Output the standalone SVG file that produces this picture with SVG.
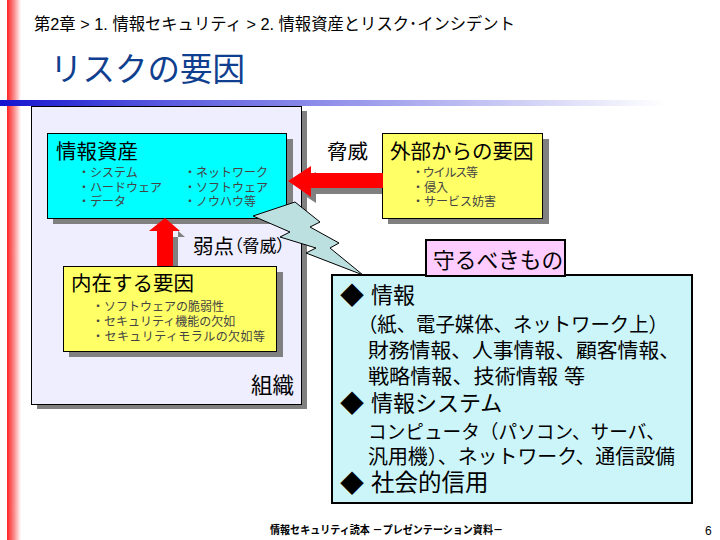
<svg xmlns="http://www.w3.org/2000/svg" width="720" height="540" viewBox="0 0 720 540">
<style>
text{font-family:"Liberation Sans","Noto Sans CJK JP",sans-serif;fill:#000}
.h{font-size:20.5px}
.s{font-size:12px;fill:#444}
.box{stroke:#000;stroke-width:1}
.shadow{fill:#808080}
.arrow{fill:#f00}
.d{font-size:24px}
.p{font-size:17px;font-feature-settings:"palt"}
</style>
<defs>
<linearGradient id="gl" x1="0" y1="0" x2="1" y2="0"><stop offset="0" stop-color="#f22"/><stop offset="0.5" stop-color="#fb8a8a"/><stop offset="1" stop-color="#fff"/></linearGradient>
<linearGradient id="gt" x1="0" y1="0" x2="1" y2="0"><stop offset="0" stop-color="#1414d0"/><stop offset="0.25" stop-color="#5a5ae0"/><stop offset="1" stop-color="#fff"/></linearGradient>
</defs>
<rect x="7" y="0" width="14" height="540" fill="url(#gl)"/>
<rect x="0" y="100" width="665" height="6" fill="url(#gt)"/>
<text x="34" y="30" font-size="16.5" textLength="481" lengthAdjust="spacingAndGlyphs">第2章 &gt; 1. 情報セキュリティ &gt; 2. 情報資産とリスク･インシデント</text>
<text x="50" y="81" font-size="32.5" style="fill:#103f8f">リスクの要因</text>

<g id="org">
<rect class="shadow" x="37" y="111" width="270" height="298"/>
<rect class="box" x="31.5" y="106.5" width="270" height="298" fill="#eeeeff"/>
<text x="251" y="393" font-size="21.5">組織</text>
</g>
<g id="assets">
<rect class="shadow" x="53" y="139" width="240" height="85"/>
<rect class="box" x="47.5" y="133.5" width="239" height="85" fill="#00ffff"/>
<text class="h" x="56" y="159">情報資産</text>
<text class="s" x="78" y="177">・システム</text>
<text class="s" x="78" y="192">・ハードウェア</text>
<text class="s" x="78" y="206">・データ</text>
<text class="s" x="184" y="177">・ネットワーク</text>
<text class="s" x="184" y="192">・ソフトウェア</text>
<text class="s" x="184" y="206">・ノウハウ等</text>
</g>
<g id="inner">
<rect class="shadow" x="69" y="272" width="214" height="85"/>
<rect class="box" x="63.5" y="266.5" width="213" height="85" fill="#ffff66"/>
<text class="h" x="71" y="291">内在する要因</text>
<text class="s" x="92" y="311">・ソフトウェアの脆弱性</text>
<text class="s" x="92" y="326">・セキュリティ機能の欠如</text>
<text class="s" x="92" y="341" textLength="173">・セキュリティモラルの欠如等</text>
</g>
<g id="external">
<rect class="shadow" x="388" y="139" width="161" height="85"/>
<rect class="box" x="382.5" y="133.5" width="160" height="85" fill="#ffff66"/>
<text class="h" x="390" y="159">外部からの要因</text>
<text class="s" x="412" y="177" textLength="66">・ウイルス等</text>
<text class="s" x="412" y="192">・侵入</text>
<text class="s" x="412" y="206">・サービス妨害</text>
</g>
<g id="connectors">
<path class="shadow" d="M316 172V179H382V194H316V203L302 194V179Z"/>
<path class="arrow" d="M288 181L311 166V173H383V188H311V197Z"/>
<path class="shadow" d="M178 237H185L170 224H160V231H178ZM173 237H178V266H173Z"/>
<path class="arrow" d="M165 218L180 231H173V266H157V231H149Z"/>
</g>
<text class="h" x="327" y="159">脅威</text>
<text class="h" x="193" y="254">弱点<tspan class="p" dy="-2">（脅威）</tspan></text>
<g id="bolt"><path d="M253 216L295 202L320 222L310 227L339 243L330 248L363 275L306 253L316 248L280 237L290 232Z" fill="#bcdfe0" stroke="#000" stroke-width="1"/></g>
<g id="protect">
<rect x="332" y="275" width="360" height="228" fill="#ccf5fa" stroke="#000" stroke-width="2"/>
<text class="d" x="340" y="304">◆</text>
<text x="371" y="303" font-size="22">情報</text>
<text x="358" y="332" font-size="20" textLength="310" lengthAdjust="spacingAndGlyphs">（紙、電子媒体、ネットワーク上）</text>
<text x="368" y="358" font-size="20.5" textLength="312" lengthAdjust="spacingAndGlyphs">財務情報、人事情報、顧客情報、</text>
<text x="368" y="384" font-size="20.5" textLength="217" lengthAdjust="spacingAndGlyphs">戦略情報、技術情報 等</text>
<text class="d" x="340" y="412">◆</text>
<text x="371" y="411" font-size="22">情報システム</text>
<text x="368" y="439" font-size="19" textLength="297" lengthAdjust="spacingAndGlyphs">コンピュータ（パソコン、サーバ、</text>
<text x="368" y="464" font-size="20" textLength="307" lengthAdjust="spacingAndGlyphs">汎用機）、ネットワーク、通信設備</text>
<text class="d" x="340" y="492">◆</text>
<text x="371" y="491" font-size="23.5">社会的信用</text>
</g>
<g id="label">
<rect x="426" y="240" width="139" height="36" fill="#ffccff" stroke="#000" stroke-width="2"/>
<text x="433" y="268" font-size="21.7">守るべきもの</text>
</g>
<text x="270" y="534" font-size="11" font-weight="bold" textLength="233" lengthAdjust="spacingAndGlyphs">情報セキュリティ読本 －プレゼンテーション資料－</text>
<text x="705" y="535" font-size="12">6</text>
</svg>
